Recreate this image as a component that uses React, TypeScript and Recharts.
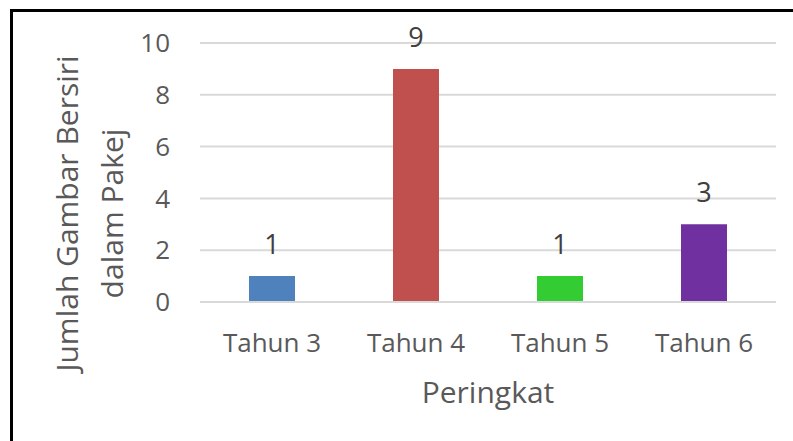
import { BarChart, Bar, XAxis, YAxis, CartesianGrid, Cell, LabelList } from "recharts";

const categories = ["Tahun 3", "Tahun 4", "Tahun 5", "Tahun 6"];
const counts = [1, 9, 1, 3];
const barColors = ["#4F81BD", "#C0504D", "#33CC33", "#7030A0"];
const yTicks = [0, 2, 4, 6, 8, 10];

const data = categories.map((name, i) => ({ name, value: counts[i] }));

const FONT = "'Open Sans', sans-serif";
const TEXT = "#595959";

export default function App() {
  return (
    <div style={{ position: "absolute", left: 0, top: 0, width: 793, height: 441, background: "#fff", overflow: "hidden" }}>
      <div style={{ position: "absolute", left: 10, top: 9, width: 800, height: 3, background: "#000" }} />
      <div style={{ position: "absolute", left: 10, top: 9, width: 3, height: 450, background: "#000" }} />
      <BarChart
        width={793}
        height={441}
        data={data}
        margin={{ top: 43, right: 17, left: 0, bottom: 0 }}
        style={{ fontFamily: FONT }}
      >
        <CartesianGrid vertical={false} stroke="#d9d9d9" strokeWidth={2} />
        <XAxis
          dataKey="name"
          height={139}
          axisLine={{ stroke: "#d9d9d9", strokeWidth: 2 }}
          tickLine={false}
          tickSize={0}
          tickMargin={32}
          tick={{ fontSize: 26, fill: TEXT, fontFamily: FONT }}
          label={({ viewBox }: any) => (
            <text
              x={viewBox.x + viewBox.width / 2}
              y={viewBox.y + 101}
              textAnchor="middle"
              fontSize={30}
              fill={TEXT}
              fontFamily={FONT}
            >
              Peringkat
            </text>
          )}
        />
        <YAxis
          width={200}
          domain={[0, 10]}
          ticks={yTicks}
          axisLine={false}
          tickLine={false}
          tickSize={0}
          tickMargin={30}
          tick={{ fontSize: 26, fill: TEXT, fontFamily: FONT }}
          label={({ viewBox }: any) => {
            const cy = viewBox.y + viewBox.height / 2 + 41;
            return (
              <g fontSize={30} fill={TEXT} fontFamily={FONT}>
                <text x={78} y={cy} textAnchor="middle" transform={`rotate(-90 78 ${cy})`}>
                  Jumlah Gambar Bersiri
                </text>
                <text x={123} y={cy} textAnchor="middle" transform={`rotate(-90 123 ${cy})`}>
                  dalam Pakej
                </text>
              </g>
            );
          }}
        />
        <Bar dataKey="value" barSize={46} isAnimationActive={false}>
          {data.map((d, i) => (
            <Cell key={d.name} fill={barColors[i]} />
          ))}
          <LabelList
            dataKey="value"
            position="top"
            offset={22}
            style={{ fontSize: 27, fill: "#404040", fontFamily: FONT }}
          />
        </Bar>
      </BarChart>
    </div>
  );
}
